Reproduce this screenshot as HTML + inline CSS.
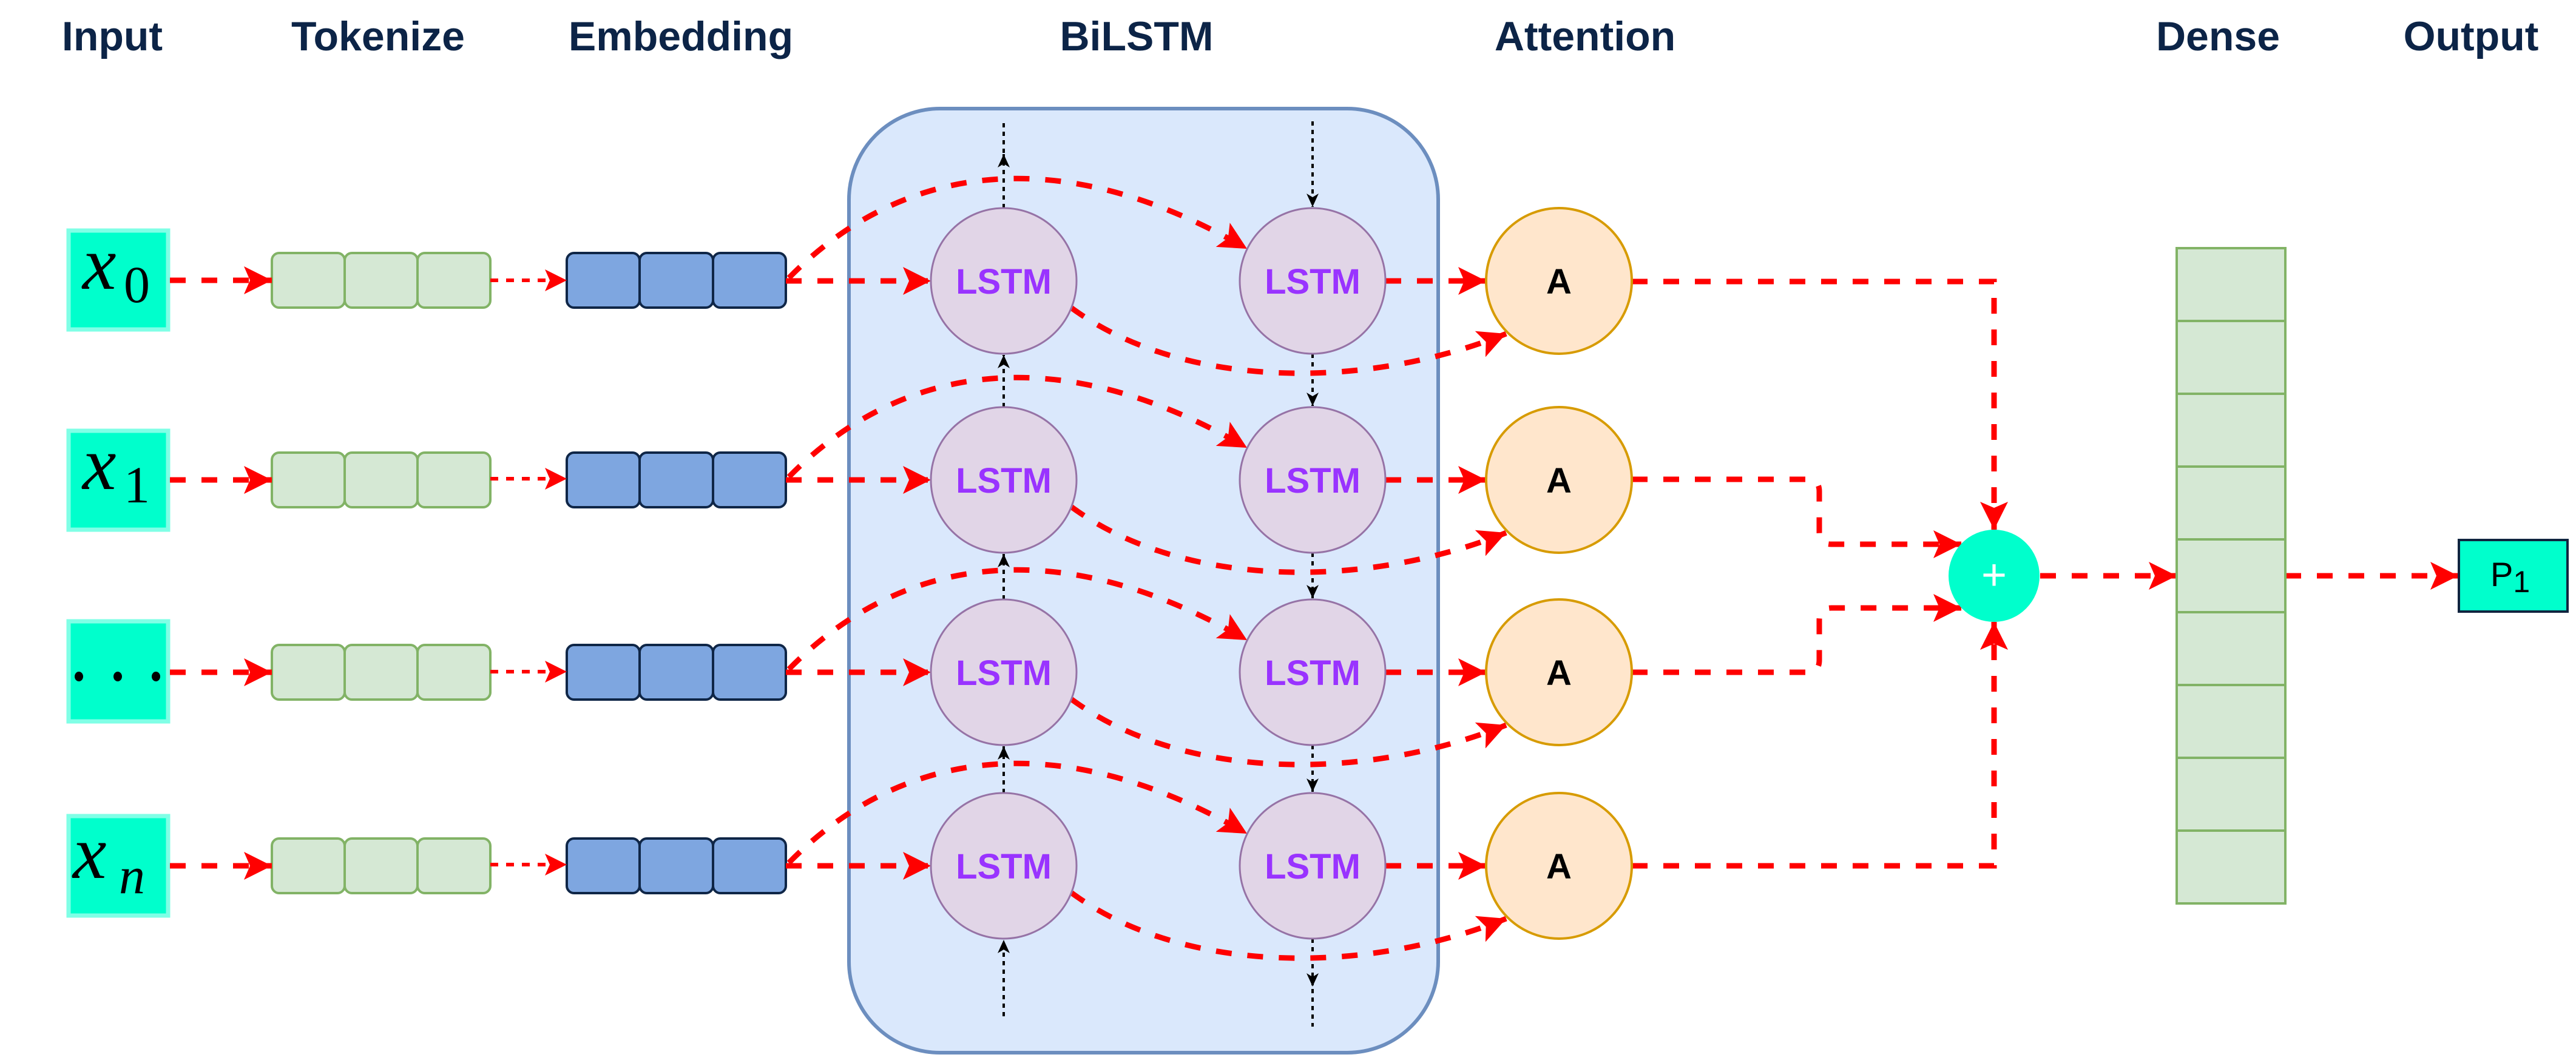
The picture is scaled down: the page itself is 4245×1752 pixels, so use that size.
<!DOCTYPE html>
<html><head><meta charset="utf-8"><style>
html,body{margin:0;padding:0;background:#fff;}
svg{display:block;}
</style></head><body>
<svg width="4245" height="1752" viewBox="0 0 4245 1752" xmlns="http://www.w3.org/2000/svg">
<defs>
<marker id="ar" markerUnits="userSpaceOnUse" markerWidth="50" markerHeight="50" viewBox="0 0 50 50" refX="46" refY="25" orient="auto">
<path d="M0,2 L46,25 L0,48 L10,25 Z" fill="#ff0000"/>
</marker>
<marker id="ars" markerUnits="userSpaceOnUse" markerWidth="40" markerHeight="40" viewBox="0 0 40 40" refX="36" refY="20" orient="auto">
<path d="M0,2 L36,20 L0,38 L8,20 Z" fill="#ff0000"/>
</marker>
<marker id="ab" markerUnits="userSpaceOnUse" markerWidth="24" markerHeight="24" viewBox="0 0 24 24" refX="22" refY="12" orient="auto">
<path d="M0,2 L22,12 L0,22 L6,12 Z" fill="#000"/>
</marker>
</defs>

<!-- headers -->
<g font-family="Liberation Sans, sans-serif" font-weight="bold" font-size="68" fill="#0c2447" text-anchor="middle">
<text x="185" y="83">Input</text>
<text x="623" y="83">Tokenize</text>
<text x="1122" y="83">Embedding</text>
<text x="1873" y="83">BiLSTM</text>
<text x="2612" y="83">Attention</text>
<text x="3655" y="83">Dense</text>
<text x="4072" y="83">Output</text>
</g>

<!-- BiLSTM container -->
<rect x="1399" y="179" width="971" height="1556" rx="150" ry="150" fill="#dae8fc" stroke="#6c8ebf" stroke-width="6"/>

<!-- Input boxes -->
<g fill="#00ffcc" stroke="#80ffe6" stroke-width="7">
<rect x="113" y="380" width="164" height="163"/>
<rect x="113" y="710" width="164" height="163"/>
<rect x="113" y="1024" width="164" height="165"/>
<rect x="113" y="1345" width="164" height="164"/>
</g>
<g font-family="Liberation Serif, serif" fill="#000">
<text x="136" y="476" font-size="125" font-style="italic">x</text><text x="204" y="498" font-size="86">0</text>
<text x="136" y="806" font-size="125" font-style="italic">x</text><text x="204" y="828" font-size="86">1</text>
<text x="120" y="1447" font-size="125" font-style="italic">x</text><text x="196" y="1472" font-size="86" font-style="italic">n</text>
</g>
<g fill="#000">
<ellipse cx="130" cy="1115" rx="7" ry="8"/>
<ellipse cx="194" cy="1115" rx="7" ry="8"/>
<ellipse cx="257" cy="1115" rx="7" ry="8"/>
</g>

<!-- Tokenize & Embedding cells -->
<g id="cells">
<g fill="#d5e8d4" stroke="#82b366" stroke-width="4">
<rect x="448" y="417" width="120" height="90" rx="12"/><rect x="568" y="417" width="120" height="90" rx="12"/><rect x="688" y="417" width="120" height="90" rx="12"/>
<rect x="448" y="746" width="120" height="90" rx="12"/><rect x="568" y="746" width="120" height="90" rx="12"/><rect x="688" y="746" width="120" height="90" rx="12"/>
<rect x="448" y="1063" width="120" height="90" rx="12"/><rect x="568" y="1063" width="120" height="90" rx="12"/><rect x="688" y="1063" width="120" height="90" rx="12"/>
<rect x="448" y="1382" width="120" height="90" rx="12"/><rect x="568" y="1382" width="120" height="90" rx="12"/><rect x="688" y="1382" width="120" height="90" rx="12"/>
</g>
<g fill="#7ea6e0" stroke="#0f2647" stroke-width="4">
<rect x="934" y="417" width="120" height="90" rx="12"/><rect x="1054" y="417" width="121" height="90" rx="12"/><rect x="1175" y="417" width="120" height="90" rx="12"/>
<rect x="934" y="746" width="120" height="90" rx="12"/><rect x="1054" y="746" width="121" height="90" rx="12"/><rect x="1175" y="746" width="120" height="90" rx="12"/>
<rect x="934" y="1063" width="120" height="90" rx="12"/><rect x="1054" y="1063" width="121" height="90" rx="12"/><rect x="1175" y="1063" width="120" height="90" rx="12"/>
<rect x="934" y="1382" width="120" height="90" rx="12"/><rect x="1054" y="1382" width="121" height="90" rx="12"/><rect x="1175" y="1382" width="120" height="90" rx="12"/>
</g>
</g>

<!-- black dotted arrows -->
<g stroke="#000" stroke-width="4" stroke-dasharray="7 7" fill="none">
<line x1="1654" y1="343" x2="1654" y2="254" marker-end="url(#ab)"/>
<line x1="1654" y1="252" x2="1654" y2="200"/>
<line x1="1654" y1="671" x2="1654" y2="585" marker-end="url(#ab)"/>
<line x1="1654" y1="988" x2="1654" y2="913" marker-end="url(#ab)"/>
<line x1="1654" y1="1307" x2="1654" y2="1230" marker-end="url(#ab)"/>
<line x1="1654" y1="1675" x2="1654" y2="1549" marker-end="url(#ab)"/>
<line x1="2163" y1="200" x2="2163" y2="341" marker-end="url(#ab)"/>
<line x1="2163" y1="583" x2="2163" y2="669" marker-end="url(#ab)"/>
<line x1="2163" y1="911" x2="2163" y2="986" marker-end="url(#ab)"/>
<line x1="2163" y1="1228" x2="2163" y2="1305" marker-end="url(#ab)"/>
<line x1="2163" y1="1547" x2="2163" y2="1626" marker-end="url(#ab)"/>
<line x1="2163" y1="1630" x2="2163" y2="1692"/>
</g>

<!-- red arrows per row -->
<g fill="none" stroke="#ff0000">
<g stroke-width="9" stroke-dasharray="26 26">
<!-- row0 y=463 -->
<path d="M280,462 L448,462" marker-end="url(#ar)"/>
<path d="M1295,463 L1534,463" marker-end="url(#ar)"/>
<path d="M1300,458 C1450,305 1700,205 2055,410" marker-end="url(#ar)"/>
<path d="M1765,507 C1950,643 2250,643 2482,550" marker-end="url(#ar)"/>
<path d="M2283,463 L2449,463" marker-end="url(#ar)"/>
<!-- row1 y=791 -->
<path d="M280,791 L448,791" marker-end="url(#ar)"/>
<path d="M1295,791 L1534,791" marker-end="url(#ar)"/>
<path d="M1300,786 C1450,633 1700,533 2055,738" marker-end="url(#ar)"/>
<path d="M1765,835 C1950,971 2250,971 2482,878" marker-end="url(#ar)"/>
<path d="M2283,791 L2449,791" marker-end="url(#ar)"/>
<!-- row2 y=1108 -->
<path d="M280,1108 L448,1108" marker-end="url(#ar)"/>
<path d="M1295,1108 L1534,1108" marker-end="url(#ar)"/>
<path d="M1300,1103 C1450,950 1700,850 2055,1055" marker-end="url(#ar)"/>
<path d="M1765,1152 C1950,1288 2250,1288 2482,1195" marker-end="url(#ar)"/>
<path d="M2283,1108 L2449,1108" marker-end="url(#ar)"/>
<!-- row3 y=1427 -->
<path d="M280,1427 L448,1427" marker-end="url(#ar)"/>
<path d="M1295,1427 L1534,1427" marker-end="url(#ar)"/>
<path d="M1300,1422 C1450,1269 1700,1169 2055,1374" marker-end="url(#ar)"/>
<path d="M1765,1471 C1950,1607 2250,1607 2482,1514" marker-end="url(#ar)"/>
<path d="M2283,1427 L2449,1427" marker-end="url(#ar)"/>
<!-- attention to plus -->
<path d="M2689,464 L3286,464 L3286,873" marker-end="url(#ar)"/>
<path d="M2689,790 L2978,790 Q2998,790 2998,810 L2998,877 Q2998,897 3018,897 L3232,897" marker-end="url(#ar)"/>
<path d="M2689,1108 L2978,1108 Q2998,1108 2998,1088 L2998,1022 Q2998,1002 3018,1002 L3232,1002" marker-end="url(#ar)"/>
<path d="M2689,1427 L3286,1427 L3286,1025" marker-end="url(#ar)"/>
<path d="M3362,949 L3587,949" marker-end="url(#ar)"/>
<path d="M3766,949 L4051,949" marker-end="url(#ar)"/>
</g>
<g stroke-width="6" stroke-dasharray="13 13">
<path d="M808,462 L934,462" marker-end="url(#ars)"/>
<path d="M808,789 L934,789" marker-end="url(#ars)"/>
<path d="M808,1107 L934,1107" marker-end="url(#ars)"/>
<path d="M808,1425 L934,1425" marker-end="url(#ars)"/>
</g>
</g>

<!-- LSTM nodes -->
<g fill="#e1d5e7" stroke="#9673a6" stroke-width="3">
<circle cx="1654" cy="463" r="120"/><circle cx="2163" cy="463" r="120"/>
<circle cx="1654" cy="791" r="120"/><circle cx="2163" cy="791" r="120"/>
<circle cx="1654" cy="1108" r="120"/><circle cx="2163" cy="1108" r="120"/>
<circle cx="1654" cy="1427" r="120"/><circle cx="2163" cy="1427" r="120"/>
</g>
<g font-family="Liberation Sans, sans-serif" font-weight="bold" font-size="58" fill="#9933ff" text-anchor="middle">
<text x="1654" y="484">LSTM</text><text x="2163" y="484">LSTM</text>
<text x="1654" y="812">LSTM</text><text x="2163" y="812">LSTM</text>
<text x="1654" y="1129">LSTM</text><text x="2163" y="1129">LSTM</text>
<text x="1654" y="1448">LSTM</text><text x="2163" y="1448">LSTM</text>
</g>

<!-- Attention nodes -->
<g fill="#ffe6cc" stroke="#d79b00" stroke-width="4">
<circle cx="2569" cy="463" r="120"/>
<circle cx="2569" cy="791" r="120"/>
<circle cx="2569" cy="1108" r="120"/>
<circle cx="2569" cy="1427" r="120"/>
</g>
<g font-family="Liberation Sans, sans-serif" font-weight="bold" font-size="58" fill="#000" text-anchor="middle">
<text x="2569" y="484">A</text><text x="2569" y="812">A</text><text x="2569" y="1129">A</text><text x="2569" y="1448">A</text>
</g>

<!-- plus -->
<ellipse cx="3286" cy="949" rx="75" ry="76" fill="#00ffcc"/>
<text x="3286" y="972" font-family="Liberation Sans, sans-serif" font-size="72" fill="#fff" text-anchor="middle">+</text>

<!-- Dense -->
<g fill="#d5e8d4" stroke="#82b366" stroke-width="4">
<rect x="3587" y="409" width="179" height="120"/>
<rect x="3587" y="529" width="179" height="120"/>
<rect x="3587" y="649" width="179" height="120"/>
<rect x="3587" y="769" width="179" height="120"/>
<rect x="3587" y="889" width="179" height="120"/>
<rect x="3587" y="1009" width="179" height="120"/>
<rect x="3587" y="1129" width="179" height="120"/>
<rect x="3587" y="1249" width="179" height="120"/>
<rect x="3587" y="1369" width="179" height="120"/>
</g>

<!-- Output -->
<rect x="4052" y="890" width="179" height="118" fill="#00ffcc" stroke="#10243f" stroke-width="4"/>
<text x="4104" y="966" font-family="Liberation Sans, sans-serif" font-size="56" fill="#000">P<tspan font-size="50" dy="10">1</tspan></text>
</svg>
</body></html>
